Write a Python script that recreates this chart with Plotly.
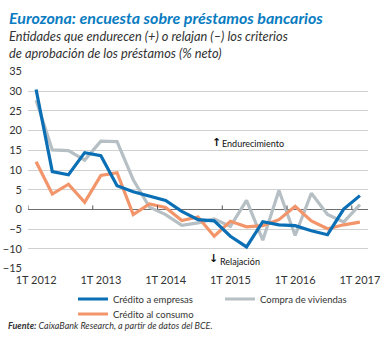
import plotly.graph_objects as go

# Quarterly survey, 1T 2012 .. 1T 2017 (net % of banks tightening standards)
quarters = [f"{q}T {y}" for y in range(2012, 2018) for q in range(1, 5)][:21]
empresas = [30.4, 9.6, 8.8, 14.4, 13.6, 6.0, 4.5, 3.4, 2.3, -0.5, -2.6, -2.9,
            -6.8, -9.5, -3.1, -3.9, -4.1, -5.4, -6.4, 0.1, 3.5]
viviendas = [27.7, 15.1, 14.9, 12.5, 17.3, 17.2, 7.5, 0.6, -1.3, -4.0, -3.4, -2.4,
             -4.3, 2.3, -7.8, 4.8, -6.6, 4.1, -1.3, -3.2, 1.2]
consumo = [12.1, 3.9, 6.4, 1.8, 8.6, 9.3, -1.3, 1.4, 0.5, -2.8, -1.9, -6.8,
           -3.0, -4.4, -4.1, -2.6, 0.8, -2.9, -4.9, -3.9, -3.2]
y_ticks = list(range(-15, 40, 5))

BLUE = "#0b6fb6"
GREY = "#b5bfc4"
ORANGE = "#f3956a"
TEXT = "#333333"
FONT = "Lato"

W, H = 385, 338
L, R, T, B = 28, 17, 71, 69
PW, PH = W - L - R, H - T - B


def px_x(px):
    return (px - L) / PW


def px_y(py):
    return (H - B - py) / PH


idx = list(range(len(quarters)))
fig = go.Figure()
series = [
    ("Compra de viviendas", viviendas, GREY, 2, "legend"),
    ("Crédito al consumo", consumo, ORANGE, 3, "legend2"),
    ("Crédito a empresas", empresas, BLUE, 1, "legend"),
]
for name, vals, color, rank, leg in series:
    fig.add_trace(go.Scatter(
        x=idx, y=vals, name=name, mode="lines",
        line=dict(color=color, width=3.2, shape="linear"),
        legendrank=rank, legend=leg, hoverinfo="skip",
    ))

# small upward ticks on the zero line at each year boundary
for i, q in enumerate(quarters):
    if q.startswith("1T"):
        fig.add_shape(type="line", xref="x", yref="y", x0=i - 0.5, x1=i - 0.5,
                      ysizemode="pixel", yanchor=0, y0=0, y1=4,
                      line=dict(color="#555555", width=1))

tick_idx = [i for i, q in enumerate(quarters) if q.startswith("1T")]

fig.update_xaxes(
    range=[-0.5, len(quarters) - 0.5], tickmode="array",
    tickvals=tick_idx, ticktext=[quarters[i] for i in tick_idx],
    showgrid=False, zeroline=False, showline=False, ticks="",
    ticklabelstandoff=3,
    tickfont=dict(family=FONT, size=11, color=TEXT),
)
fig.update_yaxes(
    range=[-15.1, 35.1], tickmode="array", tickvals=y_ticks,
    showgrid=True, gridcolor="#d0d0d0", gridwidth=1,
    zeroline=True, zerolinecolor="#6e6e6e", zerolinewidth=1,
    showline=False, ticks="", ticklabelstandoff=5,
    tickfont=dict(family=FONT, size=11, color=TEXT),
)

annotations = [
    dict(text="<b><i>Eurozona: encuesta sobre préstamos bancarios</i></b>",
         x=px_x(7), y=px_y(17), font=dict(family=FONT, size=16, color="#0a7cc1")),
    dict(text="<i>Entidades que endurecen (+) o relajan (–) los criterios<br>"
              "de aprobación de los préstamos (% neto)</i>",
         x=px_x(7), y=px_y(44.5), font=dict(family=FONT, size=12.8, color=TEXT)),
    dict(text="<b><i>Fuente:</i></b><i> CaixaBank Research, a partir de datos del BCE.</i>",
         x=px_x(6), y=px_y(325), font=dict(family=FONT, size=9, color=TEXT)),
    dict(text="<b>↑</b>", x=px_x(210), y=px_y(142),
         font=dict(family="DejaVu Sans", size=11, color="#111111")),
    dict(text="Endurecimiento", x=px_x(220), y=px_y(143),
         font=dict(family=FONT, size=9, color="#111111")),
    dict(text="<b>↓</b>", x=px_x(207), y=px_y(258),
         font=dict(family="DejaVu Sans", size=11, color="#111111")),
    dict(text="Relajación", x=px_x(218), y=px_y(261),
         font=dict(family=FONT, size=9, color="#111111")),
]
for a in annotations:
    fig.add_annotation(xref="paper", yref="paper", xanchor="left", yanchor="middle",
                       showarrow=False, align="left", **a)

legend_common = dict(orientation="h", xanchor="left", yanchor="top",
                     entrywidth=102, traceorder="normal",
                     bgcolor="rgba(0,0,0,0)",
                     font=dict(family=FONT, size=9.5, color=TEXT))

fig.update_layout(
    width=W, height=H, margin=dict(l=L, r=R, t=T, b=B, autoexpand=False),
    paper_bgcolor="white", plot_bgcolor="white",
    showlegend=True,
    legend=dict(x=px_x(73), y=px_y(284.5), **legend_common),
    legend2=dict(x=px_x(73), y=px_y(299.5), **legend_common),
)

fig.write_html("out.html")
